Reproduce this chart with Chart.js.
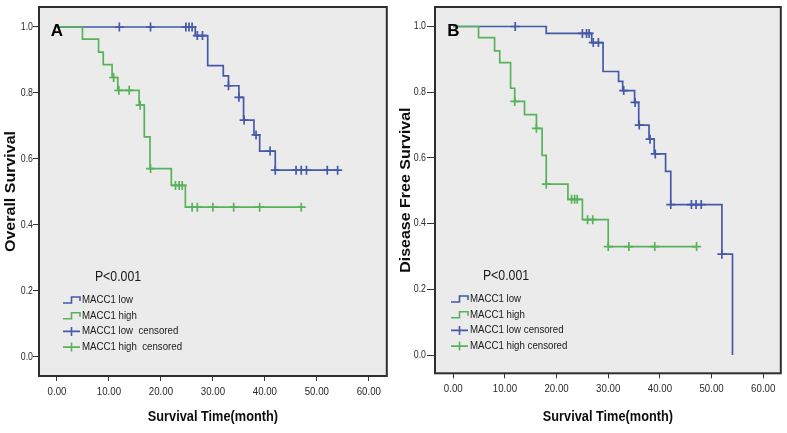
<!DOCTYPE html>
<html>
<head>
<meta charset="utf-8">
<script src="https://cdn.jsdelivr.net/npm/chart.js@4.4.1/dist/chart.umd.min.js"></script>
<style>
  html, body { margin: 0; padding: 0; background: #ffffff; overflow: hidden; }
  #wrapA { position: absolute; left: 0; top: 0; width: 393px; height: 433px; }
  #wrapB { position: absolute; left: 393px; top: 0; width: 394px; height: 433px; }
  canvas { display: block; }
</style>
</head>
<body>
<div id="wrapA"><canvas id="cA" width="393" height="433"></canvas></div>
<div id="wrapB"><canvas id="cB" width="394" height="433"></canvas></div>
<script>
// ---------------- DATA ----------------
const xTicks = [0, 10, 20, 30, 40, 50, 60];
const xTickLabels = ['0.00', '10.00', '20.00', '30.00', '40.00', '50.00', '60.00'];
const yTicks = [0, 0.2, 0.4, 0.6, 0.8, 1.0];
const yTickLabels = ['0.0', '0.2', '0.4', '0.6', '0.8', '1.0'];

const legendA = ['MACC1 low', 'MACC1 high', 'MACC1 low  censored', 'MACC1 high  censored'];
const legendB = ['MACC1 low', 'MACC1 high', 'MACC1 low censored', 'MACC1 high censored'];
const pValueText = 'P\u003C0.001';

// Panel A - Overall Survival
const osLowTime = [0, 26.6, 29.0, 32.0, 33.0, 35.0, 35.9, 37.9, 39.0, 42.0, 54.0];
const osLowSurv = [1.000, 0.974, 0.883, 0.852, 0.822, 0.787, 0.718, 0.673, 0.624, 0.566, 0.566];
const osLowCensTime = [12.0, 18.0, 24.8, 25.4, 26.0, 27.0, 28.0, 33.0, 35.0, 36.0, 38.3, 41.0, 42.0, 46.0, 47.0, 48.0, 52.0, 54.0];
const osLowCensSurv = [1.000, 1.000, 1.000, 1.000, 1.000, 0.974, 0.974, 0.822, 0.787, 0.718, 0.673, 0.624, 0.566, 0.566, 0.566, 0.566, 0.566, 0.566];

const osHighTime = [0, 4.9, 8.0, 8.9, 10.6, 11.7, 15.8, 16.8, 17.9, 22.0, 24.7, 47.0];
const osHighSurv = [1.000, 0.963, 0.924, 0.886, 0.847, 0.808, 0.763, 0.667, 0.571, 0.520, 0.454, 0.454];
const osHighCensTime = [10.9, 11.9, 13.9, 16.0, 18.0, 22.8, 23.5, 24.1, 26.0, 27.0, 30.0, 34.0, 39.0, 47.0];
const osHighCensSurv = [0.847, 0.808, 0.808, 0.763, 0.571, 0.520, 0.520, 0.520, 0.454, 0.454, 0.454, 0.454, 0.454, 0.454];

// Panel B - Disease Free Survival
const dfsLowTime = [0, 18.0, 26.8, 29.0, 32.0, 32.8, 35.1, 35.9, 37.9, 38.9, 41.1, 42.1, 52.0, 54.05];
const dfsLowSurv = [1.000, 0.979, 0.951, 0.863, 0.833, 0.805, 0.769, 0.700, 0.657, 0.612, 0.559, 0.458, 0.307, 0.000];
const dfsLowCensTime = [12.0, 25.0, 25.8, 26.3, 27.1, 28.1, 33.0, 35.2, 36.0, 38.1, 39.1, 42.1, 46.1, 47.0, 48.0, 52.0];
const dfsLowCensSurv = [1.000, 0.979, 0.979, 0.979, 0.951, 0.951, 0.805, 0.769, 0.700, 0.657, 0.612, 0.458, 0.458, 0.458, 0.458, 0.307];

const dfsHighTime = [0, 4.9, 8.0, 9.0, 11.1, 11.9, 13.8, 16.1, 17.2, 18.0, 22.2, 25.0, 30.0, 47.1];
const dfsHighSurv = [1.000, 0.966, 0.926, 0.890, 0.812, 0.772, 0.732, 0.690, 0.608, 0.520, 0.474, 0.412, 0.330, 0.330];
const dfsHighCensTime = [11.9, 16.1, 18.0, 22.9, 23.5, 24.0, 26.0, 27.0, 30.0, 34.0, 39.0, 47.1];
const dfsHighCensSurv = [0.772, 0.690, 0.520, 0.474, 0.474, 0.474, 0.412, 0.412, 0.330, 0.330, 0.330, 0.330];

// ---------------- STYLE ----------------
const BLUE = '#4659a8';
const GREEN = '#58b25a';
const PLOT_BG = '#ebebeb';
const TEXT = '#1a1a1a';
const FONT = '"Liberation Sans", Arial, Helvetica, sans-serif';
const TEXT_SQUEEZE = 0.88; // reference text is horizontally condensed

// horizontal text condensing (keeps text as real text)
(function () {
  const proto = CanvasRenderingContext2D.prototype;
  const orig = proto.fillText;
  proto.fillText = function (text, x, y, maxWidth) {
    const k = (this.__squeeze !== undefined) ? this.__squeeze : TEXT_SQUEEZE;
    const call = () => (maxWidth === undefined ? orig.call(this, text, x, y) : orig.call(this, text, x, y, maxWidth));
    if (k === 1) return call();
    const m = this.getTransform();
    const ax = m.a * x + m.c * y + m.e;
    this.save();
    this.setTransform(k, 0, 0, 1, ax - k * ax, 0);
    this.transform(m.a, m.b, m.c, m.d, m.e, m.f);
    call();
    this.restore();
  };
})();

function pts(xs, ys) { return xs.map((x, i) => ({ x: x, y: ys[i] })); }

function decorPlugin(d) {
  return {
    id: 'decor',
    beforeDraw(chart) {
      const { ctx, chartArea: a } = chart;
      ctx.save();
      ctx.fillStyle = PLOT_BG;
      ctx.fillRect(a.left, a.top, a.right - a.left, a.bottom - a.top);
      ctx.restore();
    },
    afterDatasetsDraw(chart) {
      const { ctx, chartArea: a } = chart;
      ctx.save();
      ctx.strokeStyle = '#2e2e2e';
      ctx.lineWidth = 2;
      ctx.strokeRect(a.left, a.top, a.right - a.left, a.bottom - a.top);

      // panel letter
      ctx.__squeeze = 1;
      ctx.fillStyle = '#000000';
      ctx.font = 'bold 17px ' + FONT;
      ctx.textAlign = 'center';
      ctx.textBaseline = 'middle';
      ctx.fillText(d.letter, d.letterX, d.letterY);
      ctx.__squeeze = undefined;

      // p-value
      ctx.fillStyle = TEXT;
      ctx.font = '14px ' + FONT;
      ctx.fillText(pValueText, d.pX, d.pY);

      // legend
      ctx.font = '11px ' + FONT;
      ctx.textAlign = 'left';
      const colors = [BLUE, GREEN, BLUE, GREEN];
      d.legend.forEach((label, i) => {
        const y = d.legY + i * d.legStep;
        const x0 = d.legX0, x1 = d.legX1;
        ctx.strokeStyle = colors[i];
        ctx.lineWidth = 1.6;
        ctx.beginPath();
        const xm = x0 + (x1 - x0) * 0.5;
        if (i < 2) {
          ctx.moveTo(x0, y + 3);
          ctx.lineTo(xm, y + 3);
          ctx.lineTo(xm, y - 3);
          ctx.lineTo(x1, y - 3);
          ctx.lineTo(x1, y + 1);
        } else {
          ctx.moveTo(x0, y);
          ctx.lineTo(x1, y);
          ctx.moveTo(xm, y - 4.5);
          ctx.lineTo(xm, y + 4.5);
        }
        ctx.stroke();
        ctx.fillStyle = TEXT;
        ctx.fillText(label, d.legTextX, y);
      });
      ctx.restore();
    }
  };
}

function makeChart(canvasId, p) {
  const ds = [
    { data: pts(p.lowT, p.lowS), borderColor: BLUE, borderWidth: 1.7, stepped: true, pointRadius: 0, fill: false, order: 4 },
    { data: pts(p.highT, p.highS), borderColor: GREEN, borderWidth: 1.7, stepped: true, pointRadius: 0, fill: false, order: 3 },
    { data: pts(p.lowCT, p.lowCS), showLine: false, pointStyle: 'cross', pointRadius: 4.5, pointBorderWidth: 1.7,
      pointBorderColor: BLUE, borderColor: BLUE, order: 2 },
    { data: pts(p.highCT, p.highCS), showLine: false, pointStyle: 'cross', pointRadius: 4.5, pointBorderWidth: 1.7,
      pointBorderColor: GREEN, borderColor: GREEN, order: 1 }
  ];
  return new Chart(document.getElementById(canvasId), {
    type: 'line',
    data: { datasets: ds },
    options: {
      responsive: false,
      animation: false,
      devicePixelRatio: 1,
      events: [],
      layout: { padding: { top: p.padTop, right: p.padRight, left: 0, bottom: 0 } },
      plugins: { legend: { display: false }, tooltip: { enabled: false } },
      scales: {
        x: {
          type: 'linear',
          min: p.xMin, max: p.xMax,
          afterBuildTicks: s => { s.ticks = xTicks.map(v => ({ value: v })); },
          afterFit: s => { s.height = p.xAxisH; },
          ticks: {
            callback: (v, i) => xTickLabels[i],
            font: { family: FONT, size: 11 }, color: '#2a2a2a', padding: 4, maxRotation: 0, autoSkip: false
          },
          grid: { drawOnChartArea: false, drawTicks: true, tickLength: 5, color: '#333333', lineWidth: 1 },
          border: { display: false },
          title: {
            display: true, text: 'Survival Time(month)', color: '#0d0d0d',
            font: { family: FONT, size: 14.5, weight: 'bold' }, padding: { top: 0, bottom: p.xTitlePadB }
          }
        },
        y: {
          type: 'linear',
          min: p.yMin, max: p.yMax,
          afterBuildTicks: s => { s.ticks = yTicks.map(v => ({ value: v })); },
          afterFit: s => { s.width = p.yAxisW; },
          ticks: {
            callback: (v, i) => yTickLabels[i],
            font: { family: FONT, size: 10 }, color: '#2a2a2a', padding: p.yTickPad, autoSkip: false
          },
          grid: { drawOnChartArea: false, drawTicks: true, tickLength: p.yTickLen, color: '#333333', lineWidth: 1 },
          border: { display: false },
          title: {
            display: true, text: p.yTitle, color: '#0d0d0d',
            font: { family: FONT, size: 16, weight: 'bold' }, padding: { top: p.yTitlePadT, bottom: 0 }
          }
        }
      }
    },
    plugins: [decorPlugin(p.decor)]
  });
}

makeChart('cA', {
  lowT: osLowTime, lowS: osLowSurv, highT: osHighTime, highS: osHighSurv,
  lowCT: osLowCensTime, lowCS: osLowCensSurv, highCT: osHighCensTime, highCS: osHighCensSurv,
  xMin: -3.46, xMax: 63.46, yMin: -0.0576, yMax: 1.0606,
  padTop: 7, padRight: 6, xAxisH: 57, yAxisW: 39,
  yTickLen: 6, yTickPad: 0, xTitlePadB: 7, yTitlePadT: 2,
  yTitle: 'Overall Survival',
  decor: { letter: 'A', letterX: 57, letterY: 31, pX: 118, pY: 277,
    legend: legendA, legY: 300, legStep: 15.7, legX0: 63, legX1: 80, legTextX: 82 }
});

makeChart('cB', {
  lowT: dfsLowTime, lowS: dfsLowSurv, highT: dfsHighTime, highS: dfsHighSurv,
  lowCT: dfsLowCensTime, lowCS: dfsLowCensSurv, highCT: dfsHighCensTime, highCS: dfsHighCensSurv,
  xMin: -3.53, xMax: 63.4, yMin: -0.0557, yMax: 1.0594,
  padTop: 7, padRight: 5.3, xAxisH: 59.7, yAxisW: 42,
  yTickLen: 8, yTickPad: 1, xTitlePadB: 7.3, yTitlePadT: 4,
  yTitle: 'Disease Free Survival',
  decor: { letter: 'B', letterX: 60.3, letterY: 31, pX: 113, pY: 276,
    legend: legendB, legY: 299, legStep: 15.7, legX0: 58, legX1: 75, legTextX: 77 }
});
</script>
</body>
</html>
